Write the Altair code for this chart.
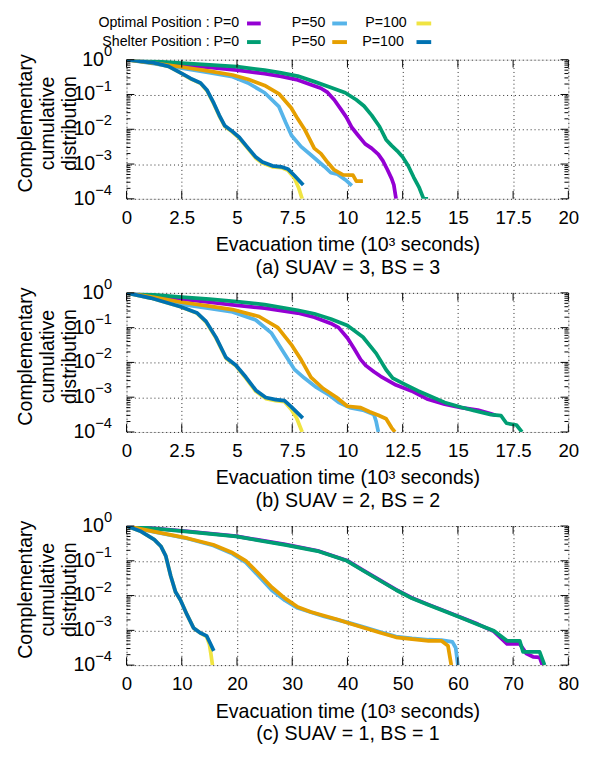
import altair as alt
import pandas as pd

# ---------------- data: time (10^3 s) and log10 of the CCDF ----------------
# (a) SUAV = 3, BS = 3
a_opt0_t = [0, 1.25, 2.5, 3.75, 5.0, 6.25, 7.0, 7.75, 8.35, 8.8, 9.1, 9.4, 9.7, 9.95, 10.2, 10.45, 10.8, 11.1, 11.4, 11.6, 11.8, 12.0, 12.1, 12.2]
a_opt0_e = [0, -0.08, -0.16, -0.22, -0.3, -0.4, -0.48, -0.58, -0.72, -0.82, -0.94, -1.15, -1.42, -1.65, -1.95, -2.15, -2.42, -2.55, -2.72, -2.9, -3.15, -3.42, -3.6, -4.0]
a_opt50_t = [0, 1.25, 2.5, 3.75, 4.8, 5.5, 6.25, 6.9, 7.2, 7.47, 7.9, 8.35, 8.95, 9.25, 9.55, 9.9, 10.2]
a_opt50_e = [0, -0.11, -0.24, -0.37, -0.49, -0.67, -0.95, -1.35, -1.8, -2.18, -2.5, -2.74, -3.07, -3.25, -3.29, -3.45, -3.62]
a_opt100_t = [0, 1.25, 1.9, 2.45, 2.9, 3.35, 3.65, 3.95, 4.2, 4.45, 4.75, 5.1, 5.45, 5.85, 6.15, 6.6, 7.0, 7.3, 7.6, 7.8, 7.95]
a_opt100_e = [0, -0.09, -0.19, -0.38, -0.55, -0.68, -0.9, -1.27, -1.62, -1.92, -2.06, -2.25, -2.52, -2.83, -2.97, -3.08, -3.1, -3.18, -3.4, -3.7, -4.0]
a_sh0_t = [0, 1.25, 2.5, 3.75, 5.0, 6.25, 7.0, 7.75, 8.5, 9.25, 9.9, 10.4, 10.75, 11.1, 11.45, 11.75, 12.0, 12.25, 12.5, 12.75, 13.0, 13.25, 13.45, 13.65]
a_sh0_e = [0, -0.05, -0.1, -0.15, -0.2, -0.3, -0.38, -0.47, -0.63, -0.8, -0.95, -1.15, -1.33, -1.6, -1.92, -2.3, -2.47, -2.62, -2.8, -3.05, -3.38, -3.68, -4.0, -4.0]
a_sh50_t = [0, 1.25, 2.5, 3.75, 4.8, 5.5, 6.25, 6.9, 7.45, 7.75, 8.05, 8.3, 8.5, 8.8, 9.1, 9.4, 9.8, 10.25, 10.4, 10.7]
a_sh50_e = [0, -0.1, -0.21, -0.33, -0.44, -0.56, -0.74, -0.98, -1.38, -1.7, -1.99, -2.3, -2.55, -2.7, -2.95, -3.17, -3.31, -3.32, -3.49, -3.49]
a_sh100_t = [0, 1.25, 1.9, 2.45, 2.9, 3.35, 3.65, 3.95, 4.2, 4.45, 4.75, 5.1, 5.45, 5.85, 6.15, 6.6, 7.0, 7.3, 7.6, 8.0]
a_sh100_e = [0, -0.09, -0.19, -0.38, -0.54, -0.67, -0.88, -1.25, -1.6, -1.9, -2.04, -2.23, -2.5, -2.8, -2.94, -3.05, -3.08, -3.14, -3.33, -3.6]

# (b) SUAV = 2, BS = 2
b_opt0_t = [0, 1.25, 2.5, 3.75, 5.0, 6.25, 7.75, 8.5, 9.25, 9.6, 10.0, 10.3, 10.6, 10.85, 11.2, 11.5, 12.2, 12.9, 13.6, 14.4, 15.15, 15.9, 16.5, 16.7]
b_opt0_e = [0, -0.1, -0.18, -0.27, -0.36, -0.44, -0.58, -0.7, -0.88, -1.0, -1.3, -1.6, -1.92, -2.1, -2.27, -2.4, -2.65, -2.82, -3.05, -3.2, -3.3, -3.37, -3.48, -3.52]
b_opt50_t = [0, 1.25, 2.6, 3.75, 4.8, 5.85, 6.55, 7.15, 7.6, 8.05, 8.6, 9.2, 9.6, 10.1, 10.7, 11.2, 11.3, 11.4]
b_opt50_e = [0, -0.17, -0.34, -0.45, -0.55, -0.78, -1.15, -1.75, -2.2, -2.45, -2.72, -2.95, -3.15, -3.3, -3.37, -3.5, -3.7, -4.0]
b_opt100_t = [0, 1.1, 2.45, 3.2, 3.6, 4.05, 4.5, 4.95, 5.4, 5.85, 6.3, 6.75, 7.15, 7.45, 7.7, 7.95]
b_opt100_e = [0, -0.15, -0.4, -0.59, -0.84, -1.3, -1.88, -2.1, -2.45, -2.83, -3.04, -3.1, -3.13, -3.35, -3.6, -4.0]
b_sh0_t = [0, 1.25, 2.5, 3.75, 5.0, 6.25, 7.75, 8.5, 9.25, 10.0, 10.7, 11.3, 11.75, 12.05, 12.6, 13.2, 13.7, 14.4, 15.15, 15.75, 16.5, 16.95, 17.2, 17.65, 17.9]
b_sh0_e = [0, -0.06, -0.12, -0.18, -0.25, -0.34, -0.5, -0.6, -0.75, -0.94, -1.27, -1.74, -2.21, -2.45, -2.63, -2.82, -2.96, -3.15, -3.29, -3.39, -3.5, -3.53, -3.75, -3.8, -4.0]
b_sh50_t = [0, 1.25, 2.5, 3.75, 4.8, 6.0, 6.85, 7.45, 7.9, 8.35, 8.9, 9.5, 10.0, 10.6, 11.0, 11.4, 11.75, 12.0, 12.15]
b_sh50_e = [0, -0.13, -0.27, -0.38, -0.48, -0.68, -1.0, -1.48, -1.92, -2.43, -2.75, -3.0, -3.26, -3.3, -3.42, -3.52, -3.62, -3.88, -4.0]
b_sh100_t = [0, 1.1, 2.45, 3.2, 3.6, 4.05, 4.5, 4.95, 5.4, 5.85, 6.3, 6.75, 7.15, 7.45, 7.98]
b_sh100_e = [0, -0.15, -0.4, -0.58, -0.82, -1.28, -1.86, -2.08, -2.42, -2.8, -3.01, -3.07, -3.1, -3.27, -3.6]

# (c) SUAV = 1, BS = 1
c_opt0_t = [0, 11, 19.8, 28.7, 34.6, 39.9, 42.8, 45.8, 48.8, 51.7, 54.7, 57.6, 60.6, 63.6, 66.5, 68.9, 71.2, 72.4, 73.6, 74.8, 75.3]
c_opt0_e = [0, -0.15, -0.29, -0.53, -0.71, -0.99, -1.27, -1.55, -1.83, -2.07, -2.26, -2.44, -2.63, -2.82, -3.03, -3.39, -3.39, -3.67, -3.76, -3.78, -4.0]
c_opt50_t = [0, 5, 11, 15.7, 19.2, 21.6, 24, 26.3, 28.7, 31.0, 33.4, 35.8, 38.2, 40, 42.8, 45.8, 48.8, 51.7, 54.7, 57.0, 59.0, 59.6, 60.0]
c_opt50_e = [0, -0.17, -0.36, -0.56, -0.8, -1.05, -1.45, -1.85, -2.14, -2.36, -2.48, -2.6, -2.7, -2.77, -2.9, -3.04, -3.18, -3.23, -3.27, -3.28, -3.33, -3.5, -4.0]
c_opt100_t = [0, 2.66, 5.03, 6.21, 7.1, 7.99, 8.88, 9.76, 10.95, 12.13, 13.31, 14.5, 15.0, 15.3, 15.56]
c_opt100_e = [0, -0.16, -0.39, -0.58, -0.86, -1.43, -1.9, -2.13, -2.55, -2.93, -3.07, -3.18, -3.4, -3.7, -4.0]
c_sh0_t = [0, 11, 19.8, 28.7, 34.6, 39.9, 42.8, 45.8, 48.8, 51.7, 54.7, 57.6, 60.6, 63.6, 66.5, 68.9, 71.2, 71.8, 74.8, 75.7]
c_sh0_e = [0, -0.16, -0.3, -0.54, -0.72, -1.0, -1.28, -1.56, -1.84, -2.08, -2.27, -2.45, -2.64, -2.83, -3.01, -3.3, -3.3, -3.62, -3.62, -4.0]
c_sh50_t = [0, 5, 11, 15.7, 19.2, 21.6, 24, 26.3, 28.7, 31.0, 33.4, 35.8, 38.2, 40, 42.8, 45.8, 48.8, 51.7, 54.7, 57.0, 58.2, 58.8]
c_sh50_e = [0, -0.16, -0.35, -0.54, -0.77, -1.0, -1.38, -1.76, -2.08, -2.33, -2.47, -2.58, -2.69, -2.78, -2.92, -3.06, -3.2, -3.25, -3.3, -3.3, -3.44, -4.0]
c_sh100_t = [0, 2.66, 5.03, 6.21, 7.1, 7.99, 8.88, 9.76, 10.95, 12.13, 13.31, 14.5, 15.09, 15.8]
c_sh100_e = [0, -0.16, -0.39, -0.58, -0.86, -1.43, -1.9, -2.13, -2.55, -2.93, -3.07, -3.16, -3.35, -3.59]

# series order (drawing order), legend labels and colours
SERIES_KEYS = ["opt0", "opt50", "opt100", "sh0", "sh50", "sh100"]
SERIES_COLORS = ["#9400d3", "#56b4e9", "#f0e442", "#009e73", "#e69f00", "#0072b2"]
LEGEND_ROW1 = ["Optimal Position : P=0", "P=50", "P=100"]
LEGEND_ROW2 = ["Shelter Position : P=0", "P=50", "P=100"]

CAPTIONS = ["(a) SUAV = 3, BS = 3", "(b) SUAV = 2, BS = 2", "(c) SUAV = 1, BS = 1"]
X_TICKS_AB = [0, 2.5, 5, 7.5, 10, 12.5, 15, 17.5, 20]
X_TICKS_C = [0, 10, 20, 30, 40, 50, 60, 70, 80]
Y_TICKS = [1, 0.1, 0.01, 0.001, 0.0001]
Y_TICK_EXP = ["0", "\u22121", "\u22122", "\u22123", "\u22124"]
Y_TITLE = ["Complementary", "cumulative", "distribution"]
X_TITLE = "Evacuation time (10\u00b3 seconds)"

# ---------------- styling ----------------
FONT = "Liberation Sans"
W, H = 451, 142

DATA = {
    "a": {k: (globals()[f"a_{k}_t"], globals()[f"a_{k}_e"]) for k in SERIES_KEYS},
    "b": {k: (globals()[f"b_{k}_t"], globals()[f"b_{k}_e"]) for k in SERIES_KEYS},
    "c": {k: (globals()[f"c_{k}_t"], globals()[f"c_{k}_e"]) for k in SERIES_KEYS},
}

MINOR = [m * 10.0 ** k for k in range(-4, 0) for m in range(2, 10)]


def xenc(xmax, xvals, caption):
    return alt.X(
        "t:Q",
        scale=alt.Scale(domain=[0, xmax], nice=False, zero=False),
        axis=alt.Axis(
            values=xvals, grid=True, gridColor="black", gridDash=[1, 3], gridWidth=1, gridOpacity=0.85,
            ticks=False, domain=False, labelFont=FONT, labelFontSize=19, labelColor="black",
            labelPadding=10, labelExpr="format(datum.value, '~g')", labelFlush=False, labelOverlap=False,
            title=[X_TITLE, caption], titleFont=FONT, titleFontSize=20, titleFontWeight="normal",
            titleColor="black", titlePadding=8, titleLineHeight=23,
        ),
    )


def yenc():
    return alt.Y(
        "p:Q",
        scale=alt.Scale(type="log", domain=[1e-4, 1], nice=False),
        axis=alt.Axis(values=Y_TICKS, grid=True, gridColor="black", gridDash=[1, 3], gridWidth=1,
                      gridOpacity=0.85, labels=False, ticks=False, domain=False, title=None),
    )


def panel(key, xmax, xvals, caption, legend=False):
    X = xenc(xmax, xvals, caption)
    Y = yenc()
    layers = []
    # curves
    for k, col in zip(SERIES_KEYS, SERIES_COLORS):
        t, e = DATA[key][k]
        df = pd.DataFrame({"t": t, "p": [10.0 ** v for v in e], "i": list(range(len(t)))})
        layers.append(
            alt.Chart(df).mark_line(color=col, strokeWidth=3.8, clip=True, strokeJoin="round")
            .encode(x=X, y=Y, order="i:Q")
        )
    # inward ticks on the log axis (left and right borders)
    maj = pd.DataFrame({"p": Y_TICKS})
    mnr = pd.DataFrame({"p": MINOR})
    layers += [
        alt.Chart(maj).mark_rule(color="black", strokeWidth=1).encode(y=Y, x=alt.value(0), x2=alt.value(8)),
        alt.Chart(maj).mark_rule(color="black", strokeWidth=1).encode(y=Y, x=alt.value(W - 8), x2=alt.value(W)),
        alt.Chart(mnr).mark_rule(color="black", strokeWidth=1).encode(y=Y, x=alt.value(0), x2=alt.value(4)),
        alt.Chart(mnr).mark_rule(color="black", strokeWidth=1).encode(y=Y, x=alt.value(W - 4), x2=alt.value(W)),
    ]
    # inward ticks on the time axis (bottom and top borders)
    xt = pd.DataFrame({"t": xvals})
    layers += [
        alt.Chart(xt).mark_rule(color="black", strokeWidth=1).encode(x=X, y=alt.value(H), y2=alt.value(H - 8)),
        alt.Chart(xt).mark_rule(color="black", strokeWidth=1).encode(x=X, y=alt.value(0), y2=alt.value(8)),
    ]
    # y tick labels 10^k
    lab0 = pd.DataFrame({"p": Y_TICKS[:1], "ex": Y_TICK_EXP[:1]})
    labn = pd.DataFrame({"p": Y_TICKS[1:], "ex": Y_TICK_EXP[1:]})
    for df, xpos in ((lab0, -23), (labn, -32)):
        layers.append(
            alt.Chart(df).mark_text(align="right", baseline="middle", font=FONT, fontSize=20, color="black")
            .encode(y=Y, x=alt.value(xpos), text=alt.value("10"))
        )
        layers.append(
            alt.Chart(df).mark_text(align="left", baseline="middle", font=FONT, fontSize=15, color="black", dy=-9)
            .encode(y=Y, x=alt.value(xpos), text="ex:N")
        )
    # y title (three rotated lines)
    for i, line in enumerate(Y_TITLE):
        layers.append(
            alt.Chart(pd.DataFrame({"s": [line]}))
            .mark_text(angle=270, align="center", baseline="alphabetic", font=FONT, fontSize=20, color="black")
            .encode(x=alt.value(-96 + i * 22), y=alt.value(H / 2 - 6), text="s:N")
        )
    if legend:
        rows = [(LEGEND_ROW1, SERIES_COLORS[:3], -37, [115, 203, 286]),
                (LEGEND_ROW2, SERIES_COLORS[3:], -18, [115, 203, 283])]
        sw = [(123, 137), (210, 225), (296, 311)]
        for labels, cols, ypos, rights in rows:
            for lab, col, r, (s0, s1) in zip(labels, cols, rights, sw):
                layers.append(
                    alt.Chart(pd.DataFrame({"s": [lab]}))
                    .mark_text(align="right", baseline="middle", font=FONT, fontSize=14.5, color="black")
                    .encode(x=alt.value(r), y=alt.value(ypos), text="s:N")
                )
                layers.append(
                    alt.Chart(pd.DataFrame({"s": [lab]}))
                    .mark_rule(color=col, strokeWidth=4)
                    .encode(x=alt.value(s0), x2=alt.value(s1), y=alt.value(ypos))
                )
    return alt.layer(*layers).properties(width=W, height=H)


pa = panel("a", 20, X_TICKS_AB, CAPTIONS[0], legend=True)
pb = panel("b", 20, X_TICKS_AB, CAPTIONS[1])
pc = panel("c", 80, X_TICKS_C, CAPTIONS[2])

chart = (
    alt.vconcat(pa, pb, pc, spacing=96, bounds="flush")
    .properties(padding={"left": 8, "top": -1, "right": 5, "bottom": 5})
    .configure_view(stroke="black", strokeWidth=2)
    .configure(font=FONT)
)

chart.save("out.html", embed_options={"renderer": "svg", "actions": False})
